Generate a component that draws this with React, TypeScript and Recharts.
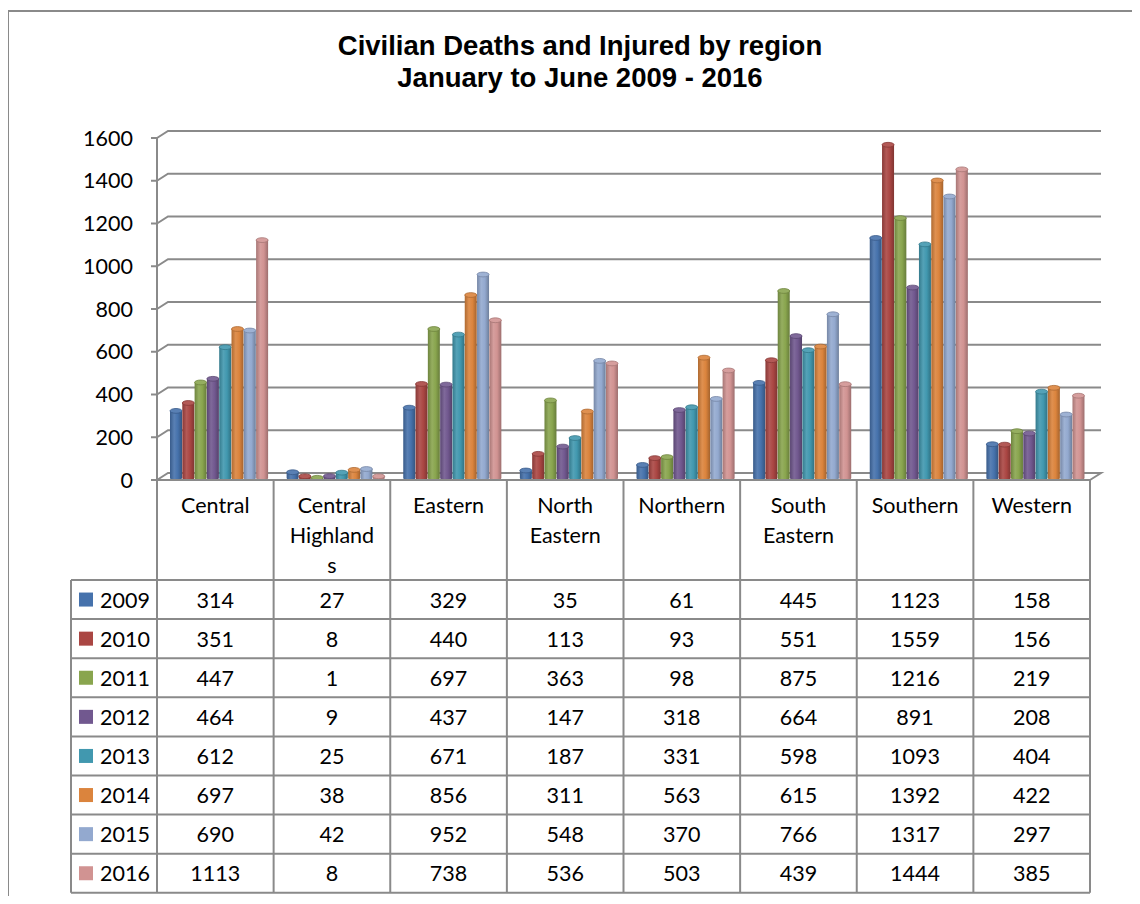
import React from 'react';
import { BarChart, Bar, XAxis, YAxis, CartesianGrid } from 'recharts';

const regions = [
  'Central',
  'Central Highlands',
  'Eastern',
  'North Eastern',
  'Northern',
  'South Eastern',
  'Southern',
  'Western',
];
// how the region names wrap inside the table header cells
const headerLines = [
  ['Central'],
  ['Central', 'Highland', 's'],
  ['Eastern'],
  ['North', 'Eastern'],
  ['Northern'],
  ['South', 'Eastern'],
  ['Southern'],
  ['Western'],
];

const years = ['2009', '2010', '2011', '2012', '2013', '2014', '2015', '2016'];
const v2009 = [314, 27, 329, 35, 61, 445, 1123, 158];
const v2010 = [351, 8, 440, 113, 93, 551, 1559, 156];
const v2011 = [447, 1, 697, 363, 98, 875, 1216, 219];
const v2012 = [464, 9, 437, 147, 318, 664, 891, 208];
const v2013 = [612, 25, 671, 187, 331, 598, 1093, 404];
const v2014 = [697, 38, 856, 311, 563, 615, 1392, 422];
const v2015 = [690, 42, 952, 548, 370, 766, 1317, 297];
const v2016 = [1113, 8, 738, 536, 503, 439, 1444, 385];
const series = [v2009, v2010, v2011, v2012, v2013, v2014, v2015, v2016];

const yTicks = [0, 200, 400, 600, 800, 1000, 1200, 1400, 1600];

const colors = [
  '#4672AC',
  '#AA4643',
  '#89A54E',
  '#71588F',
  '#4198AF',
  '#DB843D',
  '#93A9CF',
  '#D19392',
];

const data = regions.map((region, i) => {
  const row: { [key: string]: string | number } = { region };
  years.forEach((yr, s) => {
    row[yr] = series[s][i];
  });
  return row;
});

// layout
const W = 1140;
const H = 904;
const PLOT_LEFT = 157;
const PLOT_RIGHT = 1090;
const PLOT_TOP = 138;
const AXIS_Y = 480;
const BAND = (PLOT_RIGHT - PLOT_LEFT) / regions.length;
const HEADER_BOTTOM = 580;
const ROW_H = 39.1;
const TABLE_BOTTOM = HEADER_BOTTOM + ROW_H * years.length;
const LEGEND_LEFT = 71;
const DEPTH_X = 11;
const DEPTH_Y = 7;
const LINE = '#8a8a8a';
const FONT = 'Lato, "Noto Sans", sans-serif';
const FS = 21.5;

const shade = (hex: string, f: number) => {
  const n = parseInt(hex.slice(1), 16);
  const ch = [(n >> 16) & 255, (n >> 8) & 255, n & 255].map((c) =>
    Math.round(f < 0 ? c * (1 + f) : c + (255 - c) * f)
  );
  return `rgb(${ch[0]},${ch[1]},${ch[2]})`;
};

const Cylinder = (props: any) => {
  const { x, y, width, height, idx } = props;
  if (x == null || width == null) return null;
  const X = x + 4;
  const Y = y - 2;
  const h = Math.max(height, 0);
  const rx = width / 2;
  const ry = 2.4;
  const c = colors[idx];
  return (
    <g>
      <path
        d={`M${X},${Y} L${X},${Y + h} A${rx},${ry} 0 0 0 ${X + width},${Y + h} L${X + width},${Y} Z`}
        fill={`url(#cyl${idx})`}
      />
      <ellipse
        cx={X + rx}
        cy={Y}
        rx={rx}
        ry={ry}
        fill={shade(c, 0.1)}
        stroke={shade(c, -0.2)}
        strokeWidth={0.8}
      />
    </g>
  );
};

const GridLine = (p: any) => {
  const { x1, y1, x2 } = p;
  let d = `M${x1},${y1} L${x1 + DEPTH_X},${y1 - DEPTH_Y} L${x2 + DEPTH_X},${y1 - DEPTH_Y}`;
  if (Math.abs(y1 - AXIS_Y) < 1) d += ` L${x2},${y1}`;
  return <path key={p.key} d={d} fill='none' stroke={LINE} strokeWidth={2} />;
};

const TableColumn = (props: any) => {
  const { x, index } = props;
  const left = x - BAND / 2;
  const right = x + BAND / 2;
  const rowMid = (r: number) => HEADER_BOTTOM + ROW_H * r + ROW_H / 2;
  return (
    <g fontFamily={FONT} fontSize={FS} fill='#000'>
      {index === 0 && (
        <g>
          {years.map((_, r) => (
            <line
              key={'h' + r}
              x1={LEGEND_LEFT}
              x2={PLOT_RIGHT}
              y1={HEADER_BOTTOM + ROW_H * r}
              y2={HEADER_BOTTOM + ROW_H * r}
              stroke={LINE}
              strokeWidth={2}
            />
          ))}
          <line
            x1={LEGEND_LEFT}
            x2={PLOT_RIGHT}
            y1={TABLE_BOTTOM}
            y2={TABLE_BOTTOM}
            stroke={LINE}
            strokeWidth={2}
          />
          <line
            x1={LEGEND_LEFT}
            x2={LEGEND_LEFT}
            y1={HEADER_BOTTOM}
            y2={TABLE_BOTTOM}
            stroke={LINE}
            strokeWidth={2}
          />
          {years.map((yr, r) => (
            <g key={'lg' + yr}>
              <rect x={79} y={rowMid(r) - 7} width={14} height={14} fill={colors[r]} />
              <text x={100} y={rowMid(r)} dominantBaseline='central' fill='#000'>
                {yr}
              </text>
            </g>
          ))}
        </g>
      )}
      <line x1={left} x2={left} y1={AXIS_Y} y2={TABLE_BOTTOM} stroke={LINE} strokeWidth={2} />
      {index === regions.length - 1 && (
        <line x1={right} x2={right} y1={AXIS_Y} y2={TABLE_BOTTOM} stroke={LINE} strokeWidth={2} />
      )}
      {headerLines[index].map((ln, k) => (
        <text
          key={'t' + k}
          x={x}
          y={505 + k * 30}
          textAnchor='middle'
          dominantBaseline='central'
          fill='#000'
        >
          {ln}
        </text>
      ))}
      {series.map((vals, r) => (
        <text
          key={'v' + r}
          x={x}
          y={rowMid(r)}
          textAnchor='middle'
          dominantBaseline='central'
          fill='#000'
        >
          {vals[index]}
        </text>
      ))}
    </g>
  );
};

const App = () => {
  return (
    <div style={{ position: 'relative', width: W, height: H, margin: -8, background: '#fff' }}>
      <div
        style={{
          position: 'absolute',
          left: 7,
          top: 10,
          width: W,
          height: H,
          borderLeft: `2px solid ${LINE}`,
          borderTop: `2px solid ${LINE}`,
        }}
      />
      <div
        style={{
          position: 'absolute',
          left: 0,
          width: 1160,
          top: 29.5,
          textAlign: 'center',
          fontFamily: '"Liberation Sans", Arial, sans-serif',
          fontWeight: 'bold',
          fontSize: 27.5,
          lineHeight: '32px',
          color: '#000',
        }}
      >
        Civilian Deaths and Injured by region
        <br />
        January to June 2009 - 2016
      </div>
      <div style={{ position: 'absolute', left: 0, top: 0 }}>
        <BarChart
          width={W}
          height={H}
          data={data}
          margin={{ top: PLOT_TOP, right: W - PLOT_RIGHT, left: 0, bottom: 0 }}
          barCategoryGap='8%'
          barGap={0.3}
        >
          <defs>
            {colors.map((c, i) => (
              <linearGradient key={c} id={`cyl${i}`} x1='0' y1='0' x2='1' y2='0'>
                <stop offset='0%' stopColor={shade(c, -0.2)} />
                <stop offset='35%' stopColor={shade(c, 0.1)} />
                <stop offset='65%' stopColor={c} />
                <stop offset='100%' stopColor={shade(c, -0.25)} />
              </linearGradient>
            ))}
          </defs>
          <CartesianGrid vertical={false} horizontal={GridLine} />
          <XAxis
            dataKey='region'
            type='category'
            interval={0}
            height={H - AXIS_Y}
            tickLine={false}
            axisLine={{ stroke: LINE, strokeWidth: 2 }}
            tick={<TableColumn />}
          />
          <YAxis
            width={PLOT_LEFT}
            domain={[0, 1600]}
            ticks={yTicks}
            interval={0}
            tickSize={6}
            tickMargin={18}
            axisLine={{ stroke: LINE, strokeWidth: 2 }}
            tickLine={{ stroke: LINE, strokeWidth: 2 }}
            tick={{ fill: '#000', fontSize: FS, fontFamily: FONT }}
          />
          {years.map((yr, i) => (
            <Bar
              key={yr}
              dataKey={yr}
              fill={colors[i]}
              barSize={12}
              isAnimationActive={false}
              shape={(p: any) => <Cylinder {...p} idx={i} />}
            />
          ))}
        </BarChart>
      </div>
    </div>
  );
};

export default App;
